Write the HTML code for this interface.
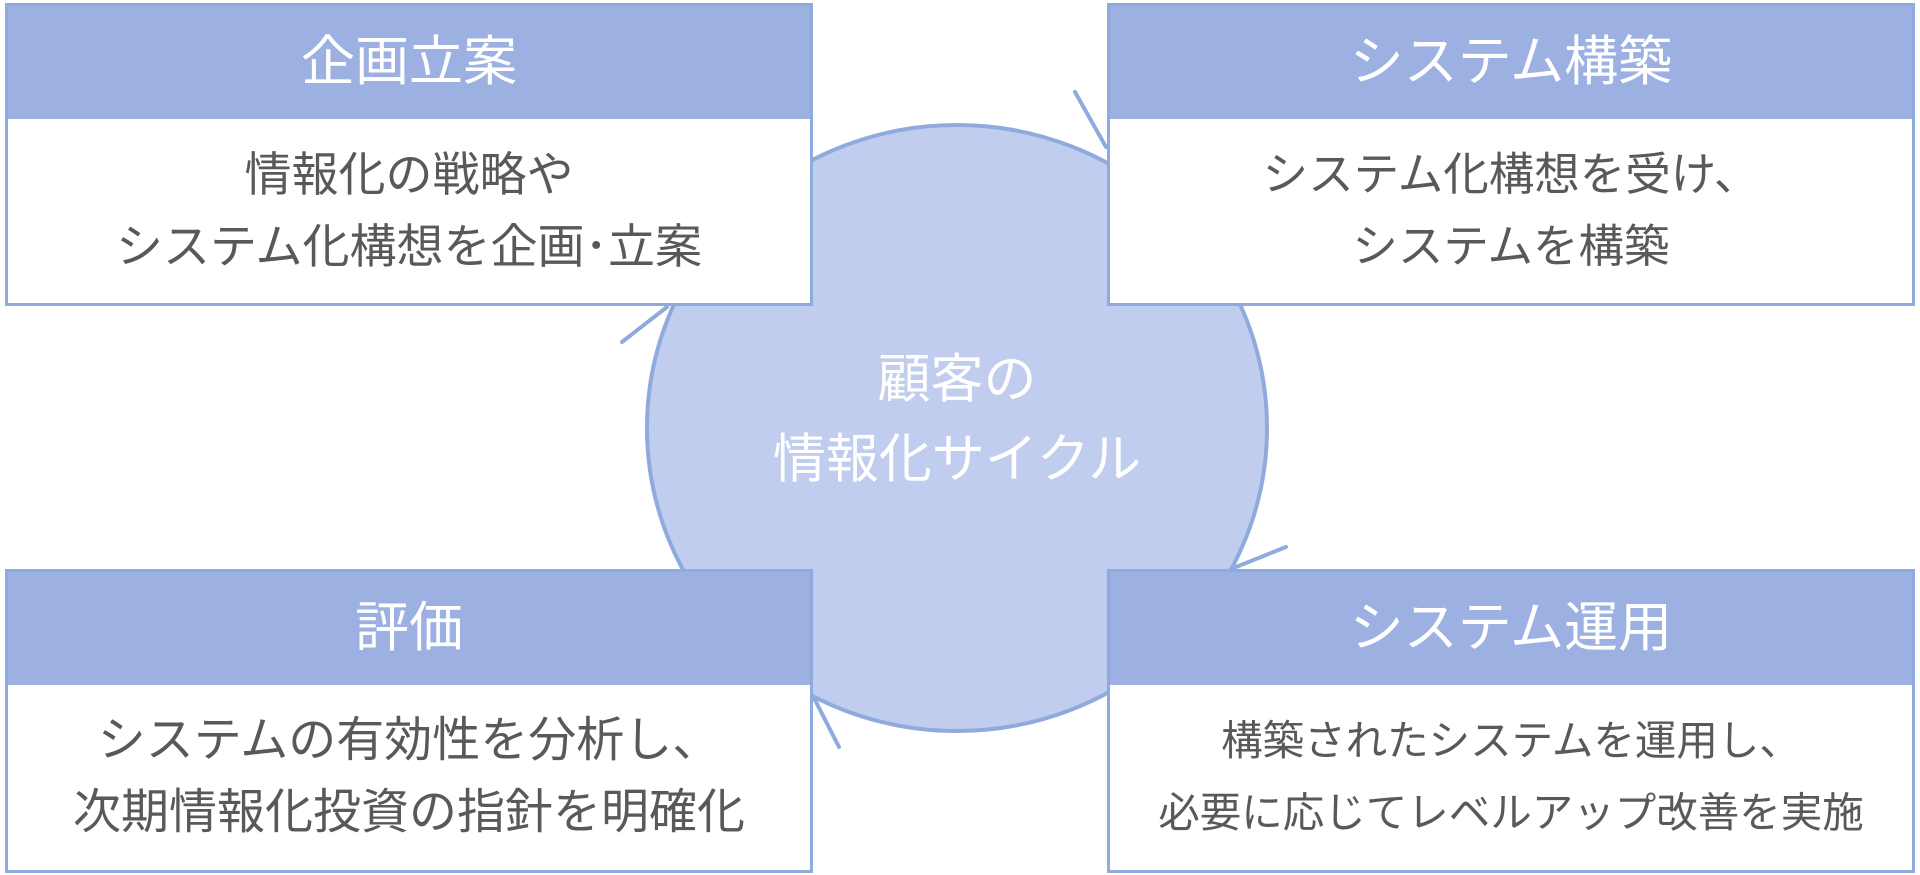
<!DOCTYPE html>
<html><head><meta charset="utf-8"><style>
body{margin:0;width:1920px;height:875px;background:#fff;position:relative;overflow:hidden;font-family:"Liberation Sans","Noto Sans CJK JP",sans-serif}
.box{position:absolute;width:808px;background:#fff;border:3px solid #8faadc;box-sizing:border-box}
.hd{background:#9cb1e2;color:#fff;font-size:54px;text-align:center;height:113px;line-height:113px}
.bd{color:#595959;font-size:47px;text-align:center;line-height:72px;padding-top:20px}
svg{position:absolute;left:0;top:0}
.ct{position:absolute;left:607px;width:700px;text-align:center;color:#fff;font-size:53px;line-height:80px;top:340px}
</style></head><body>
<svg width="1920" height="875">
<ellipse cx="957" cy="428" rx="310" ry="303" fill="#c1cdee" stroke="#8faadc" stroke-width="4"/>
<g stroke="#8faadc" stroke-width="4" stroke-linecap="round">
<line x1="1075" y1="92" x2="1106" y2="147"/>
<line x1="622" y1="342" x2="667" y2="307"/>
<line x1="1286" y1="547" x2="1231" y2="569"/>
<line x1="839" y1="747" x2="814" y2="698"/>
</g></svg>
<div class="ct">顧客の<br>情報化サイクル</div>
<div class="box" style="left:5px;top:3px;height:303px"><div class="hd">企画立案</div><div class="bd">情報化の戦略や<br>システム化構想を企画･立案</div></div>
<div class="box" style="left:1107px;top:3px;height:303px"><div class="hd">システム構築</div><div class="bd" style="font-size:45.5px">システム化構想を受け、<br>システムを構築</div></div>
<div class="box" style="left:5px;top:569px;height:304px"><div class="hd">評価</div><div class="bd" style="font-size:48px">システムの有効性を分析し、<br>次期情報化投資の指針を明確化</div></div>
<div class="box" style="left:1107px;top:569px;height:304px"><div class="hd">システム運用</div><div class="bd" style="font-size:41.5px">構築されたシステムを運用し、<br>必要に応じてレベルアップ改善を実施</div></div>
</body></html>
